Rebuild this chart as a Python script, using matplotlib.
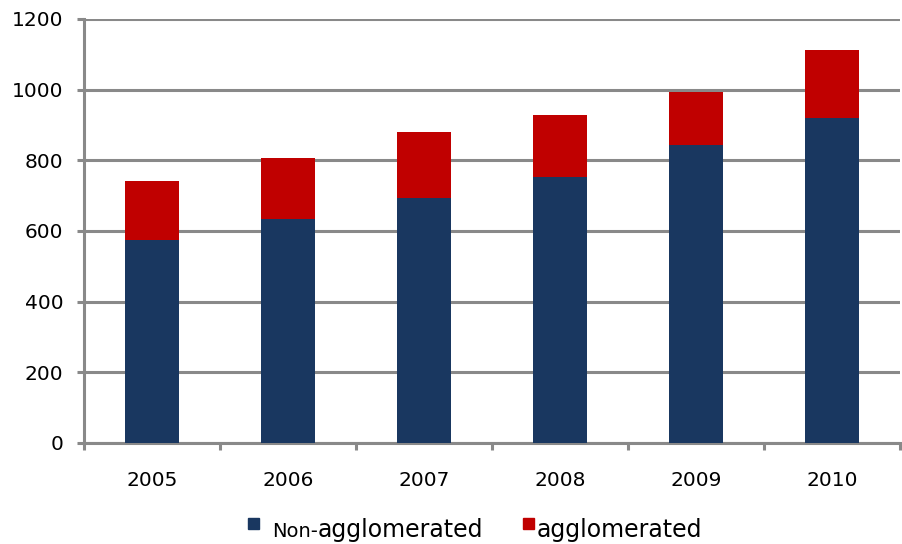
import matplotlib
matplotlib.use("Agg")
import matplotlib.pyplot as plt
from matplotlib.patches import Rectangle
import numpy as np

years = ["2005", "2006", "2007", "2008", "2009", "2010"]
non_agglomerated = [575, 634, 692, 752, 842, 921]
agglomerated = [166, 173, 188, 176, 151, 190]

blue = "#193760"
red = "#C00000"
grey = "#898989"

plt.rcParams["font.family"] = "DejaVu Sans"

fig = plt.figure(figsize=(9.02, 5.44), dpi=100)
ax = fig.add_axes([84 / 902, 1 - 443 / 544, 816 / 902, 424 / 544])

x = np.arange(len(years))
ax.bar(x, non_agglomerated, width=0.39, color=blue, zorder=3)
ax.bar(x, agglomerated, width=0.39, bottom=non_agglomerated, color=red, zorder=3)

ax.set_xlim(-0.5, len(years) - 0.5)
ax.set_ylim(0, 1200)
ax.set_yticks(range(0, 1201, 200))
ax.yaxis.grid(True, color=grey, linewidth=2.2, zorder=0)
ax.set_axisbelow(True)

for side in ["top", "right"]:
    ax.spines[side].set_visible(False)
for side in ["left", "bottom"]:
    ax.spines[side].set_color(grey)
    ax.spines[side].set_linewidth(2.2)

ax.set_xticks(x)
ax.set_xticklabels(years)
ax.set_xticks(np.arange(-0.5, len(years)), minor=True)
ax.tick_params(axis="x", which="major", length=0, pad=20, labelsize=14.5)
ax.tick_params(axis="x", which="minor", length=5, width=2.2, color=grey, direction="out")
ax.tick_params(axis="y", length=5, width=2.2, color=grey, pad=10, labelsize=14.5)

# legend drawn by hand to keep the mixed font sizes of the original
base_y = 1 - 537 / 544
fig.patches.append(Rectangle((248 / 902, 1 - 529 / 544), 11 / 902, 11 / 544,
                             transform=fig.transFigure, color=blue))
t1 = fig.text(272 / 902, base_y, "Non-", fontsize=14, va="baseline")
fig.canvas.draw()
x_end = t1.get_window_extent().x1 / fig.bbox.width
fig.text(x_end, base_y, "agglomerated", fontsize=17, va="baseline")
fig.patches.append(Rectangle((523 / 902, 1 - 529 / 544), 11 / 902, 11 / 544,
                             transform=fig.transFigure, color=red))
fig.text(537 / 902, base_y, "agglomerated", fontsize=17, va="baseline")

fig.savefig("out.png", dpi=100)
